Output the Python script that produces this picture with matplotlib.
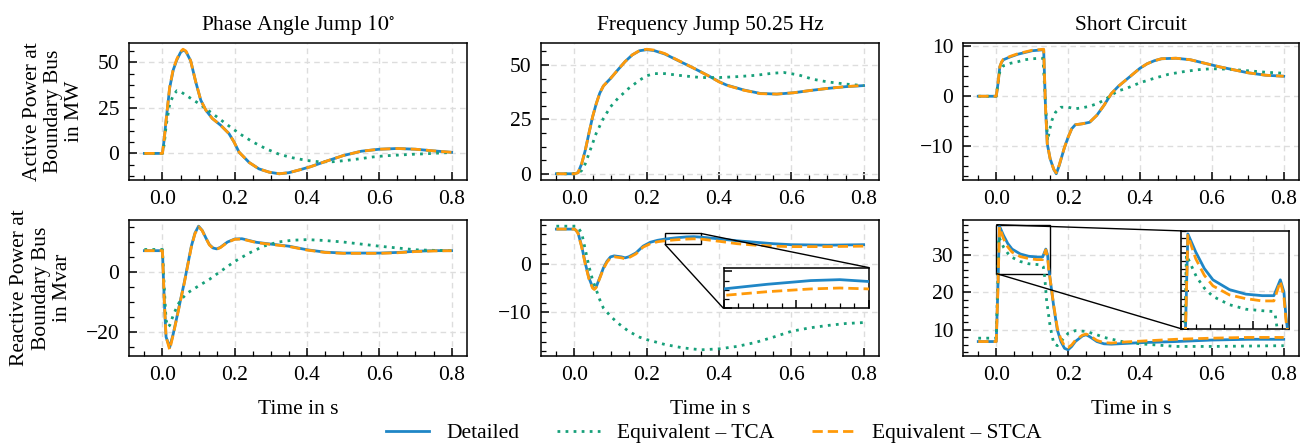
import numpy as np
import matplotlib
matplotlib.use('Agg')
import matplotlib.pyplot as plt
from matplotlib.ticker import AutoMinorLocator, MultipleLocator
from mpl_toolkits.axes_grid1.inset_locator import mark_inset

# ---------------- data ----------------
# (a) phase angle jump, active power
t_pa_det = [-0.05, 0.0, 0.005, 0.01, 0.02, 0.03, 0.04, 0.05, 0.057, 0.065, 0.078, 0.092,
            0.106, 0.12, 0.138, 0.161, 0.184, 0.198, 0.212, 0.24, 0.267, 0.295, 0.323,
            0.35, 0.38, 0.41, 0.45, 0.5, 0.55, 0.6, 0.65, 0.7, 0.75, 0.8]
p_pa_det = [0, 0, 8, 18, 36, 46, 51.5, 55.5, 56.8, 56, 51, 39.4, 29.3, 23.8, 19.2,
            15.5, 10.9, 6.3, 0.7, -5, -8.5, -10.3, -11.2, -10.6, -9, -7.3, -4.5, -1.2,
            1.2, 2.3, 2.7, 2.3, 1.4, 0.6]
p_pa_stca = [0, 0, 8, 18, 36.5, 46.5, 52, 56, 57.3, 56.3, 51, 39.4, 29.3, 23.8, 19.2,
             15.5, 10.9, 6.3, 0.7, -5, -8.5, -10.3, -11.2, -10.6, -9, -7.3, -4.5, -1.2,
             1.2, 2.3, 2.7, 2.3, 1.4, 0.6]
t_pa_tca = [-0.05, 0.0, 0.005, 0.01, 0.02, 0.03, 0.04, 0.05, 0.065, 0.1, 0.138, 0.175,
            0.212, 0.25, 0.286, 0.323, 0.36, 0.4, 0.433, 0.47, 0.507, 0.544, 0.58,
            0.617, 0.654, 0.691, 0.728, 0.765, 0.8]
p_pa_tca = [0, 0, 5, 15, 27, 32, 34.5, 34, 32, 27.5, 22, 16.4, 11, 6.3, 2.6, -0.5,
            -2.4, -3.9, -4.6, -4.6, -3.9, -3, -2, -1.3, -0.9, -0.5, -0.2, 0.2, 0.5]

# (b) frequency jump, active power
t_fj_det = [-0.05, 0.0, 0.01, 0.02, 0.03, 0.04, 0.05, 0.06, 0.07, 0.08, 0.1, 0.12, 0.14,
            0.16, 0.18, 0.2, 0.22, 0.25, 0.283, 0.33, 0.375, 0.4, 0.42, 0.468, 0.514,
            0.56, 0.606, 0.65, 0.7, 0.75, 0.8]
p_fj_det = [0, 0, 0.5, 4.6, 10.8, 18.5, 26, 32, 37, 40.3, 43.8, 47.7, 51.5, 54.6, 56.5,
            57, 56.6, 55, 52.3, 48.5, 44.6, 42.3, 40.8, 38.5, 36.9, 36.6, 37.2, 38.2,
            39.2, 40, 40.5]
p_fj_stca = [0, 0, 0.5, 4.6, 10.8, 18.5, 26, 32, 37, 40.3, 43.8, 47.7, 51.5, 54.6, 56.6,
             57.2, 56.8, 55.2, 52.4, 48.5, 44.6, 42.2, 40.7, 38.4, 36.8, 36.6, 37.2,
             38.2, 39.2, 40, 40.6]
t_fj_tca = [-0.05, 0.0, 0.01, 0.02, 0.03, 0.04, 0.05, 0.06, 0.08, 0.1, 0.12, 0.15, 0.18,
            0.2, 0.22, 0.25, 0.3, 0.35, 0.4, 0.45, 0.5, 0.55, 0.58, 0.62, 0.66, 0.7,
            0.75, 0.8]
p_fj_tca = [0, 0, 0.2, 1.5, 4.6, 9.2, 13.8, 18.5, 25.4, 30.8, 34.6, 39.2, 43, 45, 46, 46,
            45, 44.2, 44.2, 44.6, 45.2, 46.2, 46.5, 45.4, 43.4, 42.2, 41.2, 40.5]

# (c) short circuit, active power
t_sc_det = [-0.05, 0.0, 0.005, 0.01, 0.015, 0.02, 0.04, 0.06, 0.08, 0.1, 0.132, 0.137,
            0.142, 0.15, 0.16, 0.167, 0.175, 0.19, 0.2, 0.21, 0.22, 0.24, 0.26, 0.28,
            0.3, 0.32, 0.34, 0.36, 0.38, 0.4, 0.42, 0.44, 0.46, 0.5, 0.54, 0.58, 0.62,
            0.66, 0.7, 0.75, 0.8]
p_sc_det = [0, 0, 2.6, 5.9, 6.8, 7.3, 7.9, 8.4, 8.75, 9.1, 9.3, -2, -9.5, -12.5, -14.6,
            -15.5, -13.9, -10.2, -8.2, -6.5, -5.7, -5.5, -5.2, -3.8, -1.8, 0.5, 2, 3.2,
            4.4, 5.6, 6.5, 7.1, 7.5, 7.6, 7.3, 6.6, 5.9, 5.3, 4.7, 4.2, 4.0]
p_sc_stca = [0, 0, 2.6, 5.9, 6.9, 7.4, 8.0, 8.5, 8.85, 9.2, 9.4, -2, -9.5, -12.5, -14.6,
             -15.3, -13.8, -10.2, -8.2, -6.5, -5.7, -5.5, -5.2, -3.8, -1.8, 0.5, 2, 3.2,
             4.4, 5.6, 6.5, 7.1, 7.5, 7.6, 7.3, 6.6, 5.9, 5.3, 4.7, 4.2, 4.0]
t_sc_tca = [-0.05, 0.0, 0.005, 0.01, 0.02, 0.04, 0.06, 0.08, 0.1, 0.13, 0.136, 0.143,
            0.148, 0.155, 0.165, 0.18, 0.2, 0.22, 0.24, 0.26, 0.28, 0.3, 0.32, 0.34,
            0.36, 0.4, 0.44, 0.48, 0.52, 0.56, 0.6, 0.65, 0.7, 0.75, 0.8]
p_sc_tca = [0, 0, 2.6, 4.9, 6.1, 6.6, 6.9, 7.3, 7.5, 7.6, 0, -8.9, -6.9, -4.8, -3.2,
            -2.2, -2.2, -2.5, -2.3, -2, -1.5, -0.8, 0.2, 1.1, 1.5, 2.7, 3.6, 4.4, 4.9,
            5.3, 5.5, 5.4, 5.1, 4.8, 4.6]

# (d) phase angle jump, reactive power
t_qa_det = [-0.05, 0.0, 0.005, 0.01, 0.015, 0.02, 0.03, 0.04, 0.05, 0.06, 0.07, 0.08,
            0.09, 0.1, 0.11, 0.12, 0.13, 0.14, 0.15, 0.16, 0.18, 0.2, 0.22, 0.24, 0.26,
            0.3, 0.35, 0.4, 0.45, 0.5, 0.55, 0.6, 0.65, 0.7, 0.75, 0.8]
q_qa_det = [7.2, 7.2, -9.3, -21.7, -23.4, -25.2, -20.6, -15, -9.3, -3.7, 2.5, 8.7, 13.1,
            15.4, 14, 11.5, 9.2, 8.1, 7.8, 8.3, 10.1, 11.1, 11.2, 10.6, 10, 9.4, 8.7,
            7.5, 6.7, 6.4, 6.4, 6.4, 6.6, 7, 7.2, 7.2]
q_qa_stca = [7.2, 7.2, -9.3, -21.7, -23.8, -26.0, -20.8, -15.2, -9.5, -3.9, 2.3, 8.5,
             12.9, 15.2, 13.9, 11.4, 9.1, 8.0, 7.7, 8.2, 10.0, 11.0, 11.1, 10.5, 9.9,
             9.3, 8.6, 7.4, 6.6, 6.3, 6.3, 6.3, 6.5, 6.9, 7.1, 7.2]
t_qa_tca = [-0.05, 0.0, 0.005, 0.01, 0.015, 0.02, 0.03, 0.04, 0.05, 0.07, 0.1, 0.13,
            0.16, 0.2, 0.24, 0.28, 0.32, 0.36, 0.4, 0.45, 0.5, 0.55, 0.6, 0.65, 0.7,
            0.75, 0.8]
q_qa_tca = [7.6, 7.6, -5, -16, -18.3, -17.8, -14.4, -11.6, -9.3, -6.9, -4.6, -2.4, 0.2,
            3.6, 6.4, 8.7, 10.1, 10.7, 10.9, 10.6, 10.1, 9.4, 8.7, 8.1, 7.5, 7.3, 7.2]

# (e) frequency jump, reactive power
t_qf_det = [-0.05, 0.0, 0.005, 0.01, 0.02, 0.03, 0.04, 0.05, 0.055, 0.06, 0.07, 0.08,
            0.09, 0.1, 0.11, 0.12, 0.13, 0.14, 0.15, 0.17, 0.19, 0.21, 0.23, 0.25, 0.28,
            0.31, 0.33, 0.35, 0.4, 0.45, 0.5, 0.55, 0.6, 0.7, 0.8]
q_qf_det = [7.1, 7.1, 6.8, 6.3, 3.6, 0.1, -2.9, -4.8, -5.2, -4.8, -2.9, -0.9, 0.5, 1.4,
            1.6, 1.5, 1.4, 1.2, 1.4, 2.2, 3.6, 4.4, 4.8, 5.05, 5.3, 5.5, 5.55, 5.45, 5.1,
            4.7, 4.4, 4.1, 3.9, 3.8, 3.9]
q_qf_stca = [7.1, 7.1, 6.8, 6.2, 3.4, -0.1, -3.1, -5.0, -5.3, -4.9, -3.0, -1.1, 0.3,
             1.2, 1.4, 1.3, 1.2, 1.0, 1.2, 2.0, 3.4, 4.1, 4.5, 4.7, 4.9, 5.05, 5.1, 5.05,
             4.6, 4.1, 3.8, 3.6, 3.5, 3.5, 3.6]
t_qf_tca = [-0.05, 0.005, 0.01, 0.02, 0.03, 0.04, 0.05, 0.06, 0.07, 0.08, 0.1, 0.12,
            0.15, 0.18, 0.2, 0.25, 0.3, 0.35, 0.4, 0.45, 0.5, 0.55, 0.6, 0.65, 0.7,
            0.75, 0.8]
q_qf_tca = [7.7, 7.7, 7.4, 6.3, 2.9, -0.5, -3.3, -5.3, -7.4, -9.1, -10.8, -12.2, -13.9,
            -15.1, -15.6, -16.6, -17.3, -17.7, -17.5, -17, -16.2, -15.1, -13.9, -13.2,
            -12.7, -12.3, -12.1]

# (f) short circuit, reactive power
t_qs_det = [-0.05, 0.0, 0.005, 0.009, 0.02, 0.032, 0.044, 0.067, 0.09, 0.113, 0.129,
            0.138, 0.143, 0.146, 0.15, 0.16, 0.17, 0.18, 0.19, 0.2, 0.21, 0.22, 0.24,
            0.25, 0.26, 0.28, 0.3, 0.32, 0.36, 0.4, 0.5, 0.6, 0.7, 0.8]
q_qs_det = [6.9, 6.9, 22.4, 37.6, 35.2, 33, 31.5, 30.2, 29.6, 29.4, 29.4, 31.5, 29.9,
            26.5, 23.5, 16.2, 10, 6.9, 5.1, 4.7, 5.6, 6.9, 8.4, 8.7, 8.2, 6.9, 6.3, 6.2,
            6.4, 6.6, 6.9, 7.3, 7.5, 7.5]
q_qs_stca = [6.9, 6.9, 22, 37.4, 34.3, 32.1, 30.7, 29.5, 29, 28.7, 28.7, 31.3, 29.3,
             26, 23.5, 16.5, 10.5, 7.5, 5.7, 5.3, 6.0, 7.2, 8.6, 8.9, 8.5, 7.2, 6.6, 6.5,
             6.8, 7.0, 7.5, 7.8, 8.0, 8.0]
t_qs_tca = [-0.05, 0.0, 0.004, 0.007, 0.021, 0.032, 0.044, 0.067, 0.09, 0.113, 0.127,
            0.131, 0.135, 0.14, 0.15, 0.16, 0.17, 0.18, 0.2, 0.22, 0.25, 0.28, 0.3, 0.35,
            0.4, 0.5, 0.6, 0.7, 0.8]
q_qs_tca = [7.8, 7.8, 22, 34.8, 31.9, 30.4, 29.3, 28.2, 27.6, 27.4, 27.3, 26.8, 24, 18,
            10.9, 6.4, 5.8, 6.9, 9.1, 9.8, 9.6, 8.7, 8.0, 6.9, 6.3, 5.6, 5.6, 5.7, 5.8]

titles = [r'Phase Angle Jump $10^{\circ}$', 'Frequency Jump 50.25 Hz', 'Short Circuit']
ylabels = ['Active Power at\nBoundary Bus\nin MW', 'Reactive Power at\nBoundary Bus\nin Mvar']
labels = ['Detailed', 'Equivalent \u2013 TCA', 'Equivalent \u2013 STCA']

# ---------------- style ----------------
FS = 15.5
plt.rcParams.update({
    'font.family': 'serif',
    'font.serif': ['Liberation Serif', 'DejaVu Serif'],
    'mathtext.fontset': 'stix',
    'font.size': FS,
    'axes.linewidth': 1.1,
    'xtick.direction': 'in', 'ytick.direction': 'in',
    'xtick.major.size': 6, 'ytick.major.size': 6,
    'xtick.minor.size': 3.5, 'ytick.minor.size': 3.5,
    'xtick.major.width': 1.1, 'ytick.major.width': 1.1,
    'xtick.minor.width': 0.9, 'ytick.minor.width': 0.9,
    'xtick.major.pad': 7, 'ytick.major.pad': 7,
    'xtick.minor.visible': True, 'ytick.minor.visible': True,
    'axes.grid': True,
    'grid.color': '#dddddd', 'grid.linestyle': (0, (4, 3)), 'grid.linewidth': 1.0,
})

c_det = '#1f86c6'
c_tca = '#17a07a'
c_stca = '#ff9a0a'
lw = 2.0

fig = plt.figure(figsize=(13.06, 4.43), dpi=100)
lefts = [129, 541, 963]
widths = [338, 338, 336]
rows = [(43, 180), (220, 356)]
W, H = 1306, 443

panels = [
    [(t_pa_det, p_pa_det, t_pa_tca, p_pa_tca, p_pa_stca),
     (t_fj_det, p_fj_det, t_fj_tca, p_fj_tca, p_fj_stca),
     (t_sc_det, p_sc_det, t_sc_tca, p_sc_tca, p_sc_stca)],
    [(t_qa_det, q_qa_det, t_qa_tca, q_qa_tca, q_qa_stca),
     (t_qf_det, q_qf_det, t_qf_tca, q_qf_tca, q_qf_stca),
     (t_qs_det, q_qs_det, t_qs_tca, q_qs_tca, q_qs_stca)],
]
ysteps = [[25, 25, 10], [20, 10, 10]]
yminor = [[4, 4, 5], [4, 5, 5]]


def draw(ax, d):
    t_d, y_d, t_t, y_t, y_s = d
    h1, = ax.plot(t_d, y_d, color=c_det, lw=lw, label=labels[0], zorder=3)
    h2, = ax.plot(t_t, y_t, color=c_tca, lw=lw, ls=(0, (1, 1.9)), label=labels[1], zorder=4)
    h3, = ax.plot(t_d, y_s, color=c_stca, lw=lw, ls=(0, (3.7, 1.8)), label=labels[2], zorder=5)
    return [h1, h2, h3]


axes = []
for r, (top, bot) in enumerate(rows):
    for c in range(3):
        ax = fig.add_axes([lefts[c] / W, 1 - bot / H, widths[c] / W, (bot - top) / H])
        handles = draw(ax, panels[r][c])
        ax.xaxis.set_major_locator(MultipleLocator(0.2))
        ax.xaxis.set_minor_locator(AutoMinorLocator(4))
        ax.yaxis.set_major_locator(MultipleLocator(ysteps[r][c]))
        ax.yaxis.set_minor_locator(AutoMinorLocator(yminor[r][c]))
        ax.tick_params(which='both', top=False, right=False)
        ax.set_axisbelow(True)
        if r == 0:
            ax.set_title(titles[c], fontsize=FS, pad=9)
        else:
            ax.set_xlabel('Time in s', fontsize=FS, labelpad=11)
        if c == 0:
            ax.set_ylabel(ylabels[r], fontsize=FS, linespacing=1.15, labelpad=10)
        axes.append(ax)

# zoom inset: frequency jump, reactive power
ax = axes[4]
axins = ax.inset_axes([0.54, 0.35, 0.43, 0.30])
draw(axins, panels[1][1])
axins.set_xlim(0.25, 0.35)
axins.set_ylim(4.0, 6.2)
axins.grid(False)
axins.tick_params(which='both', labelbottom=False, labelleft=False, top=False, right=False)
mark_inset(ax, axins, loc1=1, loc2=3, fc='none', ec='k', lw=1.0)

# zoom inset: short circuit, reactive power
ax = axes[5]
axins = ax.inset_axes([0.65, 0.20, 0.32, 0.72])
draw(axins, panels[1][2])
axins.set_xlim(0.0, 0.15)
axins.set_ylim(25, 38)
axins.tick_params(which='both', labelbottom=False, labelleft=False, top=False, right=False)
mark_inset(ax, axins, loc1=2, loc2=3, fc='none', ec='k', lw=1.0)

fig.legend(handles, labels, loc='center', bbox_to_anchor=(0.5467, 0.022), ncol=3,
           frameon=False, fontsize=FS, handlelength=2.0, handletextpad=0.8,
           columnspacing=1.75, borderaxespad=0)

fig.savefig('out.png', dpi=100)
